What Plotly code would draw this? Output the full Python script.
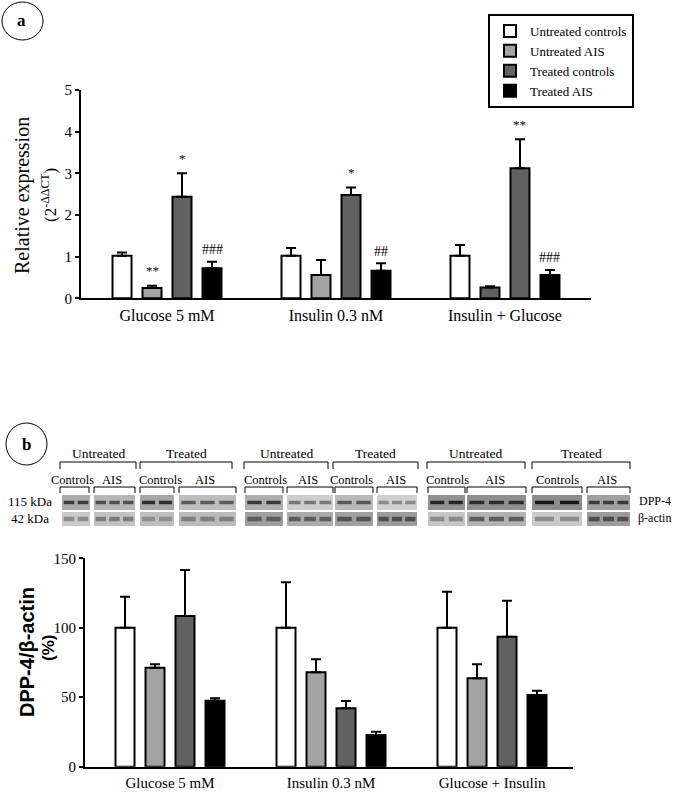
import plotly.graph_objects as go

W, H = 675, 793

# ---------------- data ----------------
series_names = ["Untreated controls", "Untreated AIS", "Treated controls", "Treated AIS"]

groups_a = ["Glucose 5 mM", "Insulin 0.3 nM", "Insulin + Glucose"]
a_untreated_controls = [1.02, 1.02, 1.02]
a_untreated_controls_err = [0.08, 0.19, 0.26]
a_untreated_ais = [0.25, 0.56, 0.26]
a_untreated_ais_err = [0.05, 0.36, 0.03]
a_treated_controls = [2.44, 2.48, 3.12]
a_treated_controls_err = [0.56, 0.18, 0.70]
a_treated_ais = [0.72, 0.66, 0.56]
a_treated_ais_err = [0.16, 0.18, 0.12]
a_yticks = [0, 1, 2, 3, 4, 5]

a_significance = [
    (1, 0, "**"), (2, 0, "*"), (3, 0, "###"),
    (2, 1, "*"), (3, 1, "##"),
    (2, 2, "**"), (3, 2, "###"),
]

groups_b = ["Glucose 5 mM", "Insulin 0.3 nM", "Glucose + Insulin"]
b_untreated_controls = [100, 100, 100]
b_untreated_controls_err = [22.4, 32.7, 26.0]
b_untreated_ais = [71.3, 67.9, 63.6]
b_untreated_ais_err = [2.4, 9.4, 10.1]
b_treated_controls = [108.5, 42.0, 93.6]
b_treated_controls_err = [33.1, 5.3, 25.9]
b_treated_ais = [47.5, 22.8, 51.6]
b_treated_ais_err = [1.7, 2.4, 3.1]
b_yticks = [0, 50, 100, 150]

blot_conditions = ["Untreated", "Treated", "Untreated", "Treated", "Untreated", "Treated"]
blot_subgroups = ["Controls", "AIS"] * 6
blot_lanes = [2, 3] * 6

# ---------------- styles ----------------
FONT = "Liberation Serif"
colors = ["#ffffff", "#a3a3a3", "#616161", "#000000"]
a_colors = [[colors[0]] * 3, [colors[1], colors[1], colors[2]], [colors[2]] * 3, [colors[3]] * 3]
b_colors = [[c] * 3 for c in colors]


def px(x):
    return x / W


def py(y):
    return 1 - y / H


fig = go.Figure()

a_vals = [a_untreated_controls, a_untreated_ais, a_treated_controls, a_treated_ais]
a_errs = [a_untreated_controls_err, a_untreated_ais_err, a_treated_controls_err, a_treated_ais_err]
b_vals = [b_untreated_controls, b_untreated_ais, b_treated_controls, b_treated_ais]
b_errs = [b_untreated_controls_err, b_untreated_ais_err, b_treated_controls_err, b_treated_ais_err]

a_unit = 169.0
b_unit = 161.0
slot_px = 30.0
bar_px = 19.0
slot_pos = [-1.5, -0.5, 0.5, 1.5]

for i, name in enumerate(series_names):
    w = bar_px / a_unit
    c = slot_pos[i] * slot_px / a_unit
    fig.add_trace(go.Bar(
        name=name, x=[0, 1, 2], y=a_vals[i], width=w, offset=c - w / 2,
        marker=dict(color=a_colors[i], line=dict(color="black", width=2)),
        error_y=dict(type="data", array=a_errs[i], arrayminus=[0, 0, 0], symmetric=False,
                     color="black", thickness=2, width=5),
        xaxis="x", yaxis="y", showlegend=True,
    ))
for i, name in enumerate(series_names):
    w = bar_px / b_unit
    c = slot_pos[i] * slot_px / b_unit
    fig.add_trace(go.Bar(
        name=name, x=[0, 1, 2], y=b_vals[i], width=w, offset=c - w / 2,
        marker=dict(color=b_colors[i], line=dict(color="black", width=2)),
        error_y=dict(type="data", array=b_errs[i], arrayminus=[0, 0, 0], symmetric=False,
                     color="black", thickness=2, width=5),
        xaxis="x2", yaxis="y2", showlegend=False,
    ))

annotations = []
for s, g, lab in a_significance:
    xpos = g + slot_pos[s] * slot_px / a_unit
    top = a_vals[s][g] + a_errs[s][g]
    annotations.append(dict(
        x=xpos, y=top, xref="x", yref="y", text=lab, showarrow=False,
        xanchor="center", yanchor="middle", yshift=15 if "*" in lab else 12,
        font=dict(family=FONT, size=13 if "*" in lab else 14, color="black")))


def ptext(x, y, text, size, family=FONT, angle=0, xanchor="center"):
    return dict(x=px(x), y=py(y), xref="paper", yref="paper", text=text, textangle=angle,
                showarrow=False, xanchor=xanchor, yanchor="middle",
                font=dict(family=family, size=size, color="black"))


annotations += [
    ptext(23, 196, "Relative expression", 20, angle=-90),
    ptext(49, 195, "(2<sup>-ΔΔCT</sup>)", 17, angle=-90),
    ptext(27, 652, "<b>DPP-4/β-actin</b>", 20, family="Liberation Sans", angle=-90),
    ptext(48, 648, "<b>(%)</b>", 17, family="Liberation Sans", angle=-90),
    ptext(22, 21, "<b>a</b>", 17),
    ptext(26, 444, "<b>b</b>", 17),
    ptext(30, 501, "115 kDa", 13),
    ptext(30, 518, "42 kDa", 13),
    ptext(637, 501, "DPP-4", 12, xanchor="left"),
    ptext(636, 518, "β-actin", 12, xanchor="left"),
]

shapes = [
    dict(type="circle", xref="paper", yref="paper", x0=px(2), x1=px(43), y0=py(40), y1=py(2),
         line=dict(color="black", width=1)),
    dict(type="circle", xref="paper", yref="paper", x0=px(6), x1=px(47), y0=py(465), y1=py(423),
         line=dict(color="black", width=1)),
]

big_brackets = [(60, 136), (140, 232), (244, 328), (333, 418), (427, 525), (532, 630)]
small_brackets = [(60, 89), (94, 135), (140, 174), (179, 236), (245, 283), (287, 333),
                  (335, 373), (377, 417), (428, 465), (467, 526), (532, 582), (587, 630)]


def bracket(x0, x1, ytop, ybot):
    return dict(type="path", xref="paper", yref="paper",
                path=f"M {px(x0)},{py(ybot)} L {px(x0)},{py(ytop)} L {px(x1)},{py(ytop)} L {px(x1)},{py(ybot)}",
                line=dict(color="black", width=1))


for (x0, x1), lab in zip(big_brackets, blot_conditions):
    shapes.append(bracket(x0, x1, 462, 469))
    annotations.append(ptext((x0 + x1) / 2, 453, lab, 13.5))
sub_centers = [72, 112, 160, 205, 265, 308, 352, 396, 447, 495, 557, 607]
for (x0, x1), lab, cx in zip(small_brackets, blot_subgroups, sub_centers):
    shapes.append(bracket(x0, x1, 487, 493))
    annotations.append(ptext(cx, 480, lab, 12.5))

blot_segments = [(62, 90), (94, 135), (140, 174), (179, 236), (245, 283), (287, 333),
                 (335, 373), (377, 417), (428, 465), (467, 526), (532, 582), (587, 630)]
dpp4_bg = ["#ababab", "#b6b6b6", "#a6a6a6", "#bdbdbd", "#afafaf", "#cdcdcd",
           "#b9b9b9", "#d0d0d0", "#929292", "#909090", "#8c8c8c", "#a0a0a0"]
dpp4_band = ["#3c3c3c", "#505050", "#2e2e2e", "#5c5c5c", "#3a3a3a", "#777777",
             "#575757", "#8a8a8a", "#252525", "#2c2c2c", "#151515", "#3a3a3a"]
actin_bg = ["#cacaca", "#c3c3c3", "#bebebe", "#bbbbbb", "#9e9e9e", "#ababab",
            "#a0a0a0", "#9c9c9c", "#c6c6c6", "#b2b2b2", "#c9c9c9", "#9c9c9c"]
actin_band = ["#8c8c8c", "#7c7c7c", "#8e8e8e", "#7e7e7e", "#5c5c5c", "#5c5c5c",
              "#525252", "#4c4c4c", "#8a8a8a", "#5c5c5c", "#8c8c8c", "#4c4c4c"]

for k, (x0, x1) in enumerate(blot_segments):
    n = blot_lanes[k]
    for (yt, yb, bg, band, bh) in [(495, 510, dpp4_bg[k], dpp4_band[k], 3.5),
                                   (512, 526, actin_bg[k], actin_band[k], 4.5)]:
        shapes.append(dict(type="rect", xref="paper", yref="paper", x0=px(x0), x1=px(x1),
                           y0=py(yb), y1=py(yt), fillcolor=bg, line=dict(width=0), layer="below"))
        lw = (x1 - x0) / n
        yc = (yt + yb) / 2
        for j in range(n):
            lx0 = x0 + j * lw + lw * 0.12
            lx1 = x0 + (j + 1) * lw - lw * 0.12
            shapes.append(dict(type="rect", xref="paper", yref="paper", x0=px(lx0), x1=px(lx1),
                               y0=py(yc + bh / 2), y1=py(yc - bh / 2), fillcolor=band,
                               line=dict(width=0), layer="below"))

axis_common = dict(showline=True, linecolor="black", linewidth=2, zeroline=False,
                   showgrid=False, mirror=False, automargin=False)

fig.update_layout(
    width=W, height=H, margin=dict(l=0, r=0, t=0, b=0, pad=0, autoexpand=False),
    paper_bgcolor="white", plot_bgcolor="white",
    barmode="overlay",
    font=dict(family=FONT, color="black"),
    xaxis=dict(domain=[px(81), px(591)], range=[-0.509, 2.509], tickvals=[0, 1, 2],
               ticktext=groups_a, ticks="outside", ticklen=1, tickcolor="rgba(0,0,0,0)",
               tickfont=dict(family=FONT, size=16), anchor="y", **axis_common),
    yaxis=dict(domain=[py(298.3), py(90)], range=[0, 5], tickvals=a_yticks, ticks="outside",
               ticklen=4, tickwidth=2, tickcolor="black", tickfont=dict(family=FONT, size=15),
               anchor="x", **axis_common),
    xaxis2=dict(domain=[px(85), px(573)], range=[-0.528, 2.503], tickvals=[0, 1, 2],
                ticktext=groups_b, ticks="outside", ticklen=1, tickcolor="rgba(0,0,0,0)",
                tickfont=dict(family=FONT, size=15), anchor="y2", **axis_common),
    yaxis2=dict(domain=[py(766.7), py(558.3)], range=[0, 150], tickvals=b_yticks, ticks="outside",
                ticklen=4, tickwidth=2, tickcolor="black", tickfont=dict(family=FONT, size=15),
                anchor="x2", **axis_common),
    legend=dict(x=px(488), y=py(14), xanchor="left", yanchor="top", bgcolor="white",
                bordercolor="black", borderwidth=2, font=dict(family=FONT, size=13, color="black"),
                tracegroupgap=0),
    annotations=annotations, shapes=shapes,
)

post = (
    "document.body.style.margin='0';document.body.style.padding='0';"
    "document.body.style.overflow='hidden';"
)
fig.write_html("out.html", config={"displayModeBar": False}, post_script=post)
